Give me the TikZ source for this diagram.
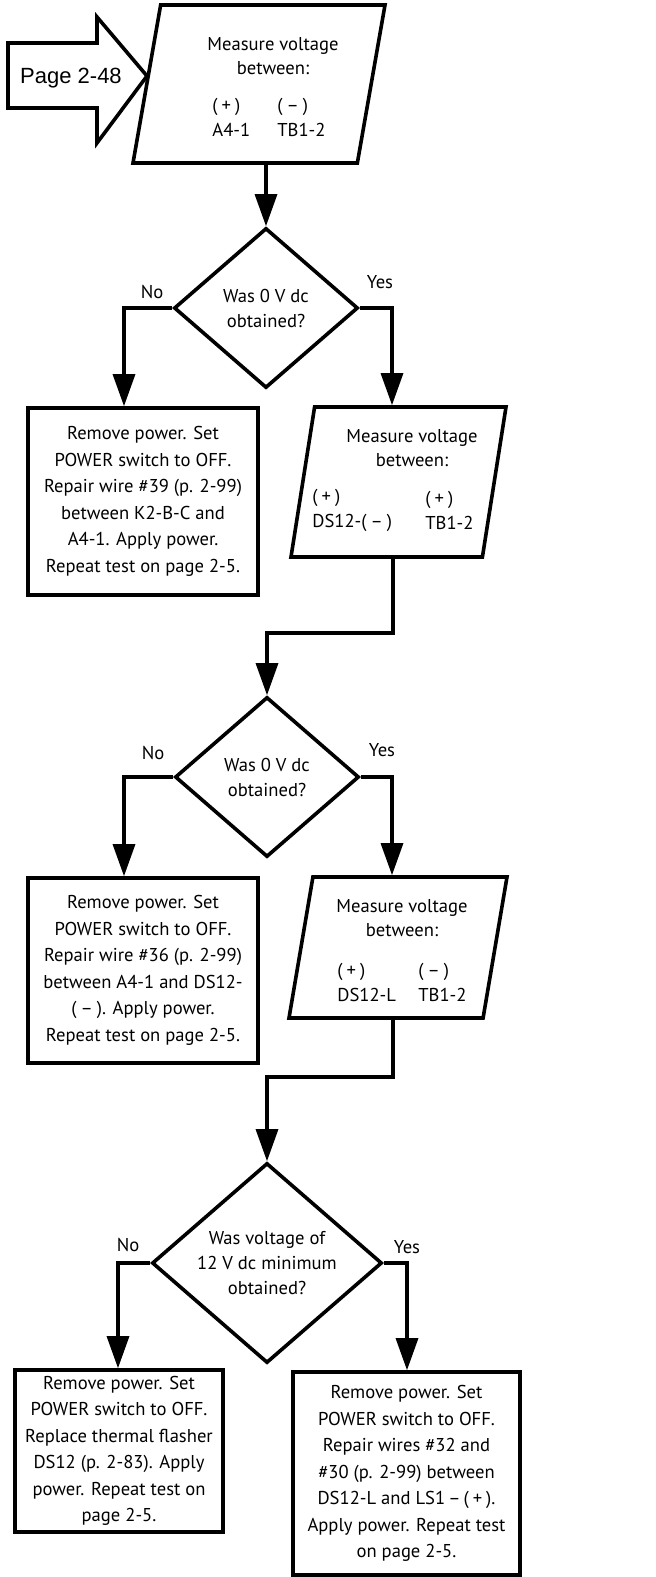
\documentclass[tikz,border=0pt]{standalone}
\usepackage{fontspec}
\setmainfont{PT Sans}
\newfontfamily\pagefont{Liberation Sans}
\usepackage{tikz}
\usetikzlibrary{arrows.meta, shapes.geometric}

\newcommand\bodysize{\fontsize{9.3}{13.25}\selectfont}
\newcommand\tplus{(\hspace{2pt}+\hspace{2pt})}
\newcommand\tminus{(\hspace{2pt}--\hspace{2pt})}

\tikzset{
  flow/.style={line width=1.6pt, -{Triangle[length=16pt,width=11pt]}},
  actbox/.style={draw, line width=1.8pt, rectangle, inner sep=0pt, align=center, font=\bodysize},
  decision/.style={draw, line width=1.8pt, diamond, aspect=1.15, inner sep=0pt, align=center, font=\fontsize{9.3}{12.5}\selectfont},
  measure/.style={draw, line width=1.8pt, trapezium, trapezium left angle=82, trapezium right angle=98,
    trapezium stretches=true, inner sep=2pt},
  mtext/.style={align=center, inner sep=0pt, font=\fontsize{9.3}{12}\selectfont},
  pins/.style={align=left, anchor=west, inner sep=0pt, font=\fontsize{9.3}{12.5}\selectfont},
  answer/.style={inner sep=0pt, font=\bodysize}
}

\begin{document}
\begin{tikzpicture}[x=0.5pt, y=-0.5pt]
\useasboundingbox (0,0) rectangle (655,1577);

\draw[line width=1.8pt, line join=miter] (8,43) -- (97,43) -- (97,17) -- (147,76) -- (97,143) -- (97,108) -- (8,108) -- cycle;
\node[anchor=base, inner sep=0pt, font=\pagefont\fontsize{11}{13}\selectfont] (page) at (71,84) {Page 2-48};

\node[measure, minimum width=126pt, minimum height=79pt] (m1) at (259,84) {};
\node[mtext] (m1t) at (273,56) {Measure voltage\\between:};
\node[pins] (m1p) at (212,117) {\tplus\\A4-1};
\node[pins] (m1n) at (277,117) {\tminus\\TB1-2};

\node[decision, minimum width=92pt, minimum height=80pt] (d1) at (266,308) {Was 0 V dc\\obtained?};
\node[answer] (no1) at (152,292) {No};
\node[answer] (yes1) at (380,282) {Yes};

\node[actbox, minimum width=115pt, minimum height=93.5pt] (fix39) at (143,501.5)
  {Remove power. Set\\POWER switch to OFF.\\Repair wire \#39 (p. 2-99)\\between K2-B-C and\\A4-1. Apply power.\\Repeat test on page 2-5.};

\node[measure, minimum width=107.5pt, minimum height=75pt] (m2) at (398.5,482) {};
\node[mtext] (m2t) at (412,448) {Measure voltage\\between:};
\node[pins] (m2p) at (312,510) {\tplus\\DS12-\tminus};
\node[pins] (m2n) at (425,510) {\tplus\\TB1-2};

\node[decision, minimum width=92pt, minimum height=80pt] (d2) at (267,777) {Was 0 V dc\\obtained?};
\node[answer] (no2) at (153,753) {No};
\node[answer] (yes2) at (382,750) {Yes};

\node[actbox, minimum width=115pt, minimum height=92.5pt] (fix36) at (143,970.5)
  {Remove power. Set\\POWER switch to OFF.\\Repair wire \#36 (p. 2-99)\\between A4-1 and DS12-\\\tminus. Apply power.\\Repeat test on page 2-5.};

\node[measure, minimum width=109pt, minimum height=70.5pt] (m3) at (398,947.5) {};
\node[mtext] (m3t) at (402,918) {Measure voltage\\between:};
\node[pins] (m3p) at (337,982) {\tplus\\DS12-L};
\node[pins] (m3n) at (418,982) {\tminus\\TB1-2};

\node[decision, minimum width=115pt, minimum height=100pt] (d3) at (267,1263) {Was voltage of\\12 V dc minimum\\obtained?};
\node[answer] (no3) at (128,1245) {No};
\node[answer] (yes3) at (407,1247) {Yes};

\node[actbox, minimum width=104pt, minimum height=81pt] (flasher) at (119,1451)
  {Remove power. Set\\POWER switch to OFF.\\Replace thermal flasher\\DS12 (p. 2-83). Apply\\power. Repeat test on\\page 2-5.};
\node[actbox, minimum width=113.5pt, minimum height=101.5pt] (wires) at (406.5,1473.5)
  {Remove power. Set\\POWER switch to OFF.\\Repair wires \#32 and\\\#30 (p. 2-99) between\\DS12-L and LS1\,--\,\tplus.\\Apply power. Repeat test\\on page 2-5.};

\coordinate (j1) at (124,0);
\coordinate (j2) at (392,0);
\coordinate (b2) at (393,633);
\coordinate (b3) at (393,1077);
\coordinate (j3) at (118,0);
\coordinate (j4) at (407,0);

\draw[flow] (m1.south -| d1.north) -- (d1.north);
\draw[flow] (d1.west) -| (j1 |- fix39.north);
\draw[flow] (d1.east) -| (j2 |- m2.north);
\draw[flow] (m2.south -| b2) -- (b2) -| (d2.north);
\draw[flow] (d2.west) -| (j1 |- fix36.north);
\draw[flow] (d2.east) -| (j2 |- m3.north);
\draw[flow] (m3.south -| b3) -- (b3) -| (d3.north);
\draw[flow] (d3.west) -| (j3 |- flasher.north);
\draw[flow] (d3.east) -| (j4 |- wires.north);
\end{tikzpicture}
\end{document}
